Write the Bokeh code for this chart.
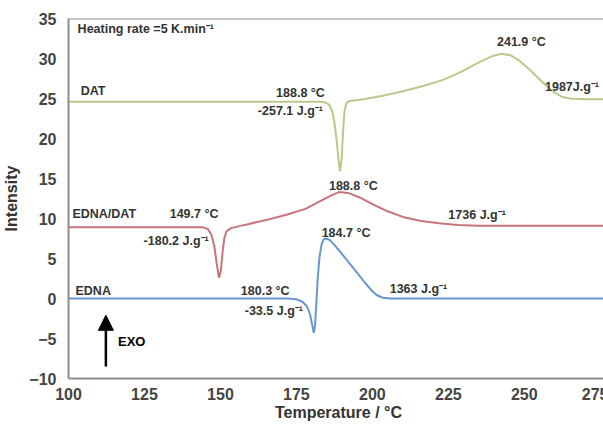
from bokeh.plotting import figure
from bokeh.models import Label, Arrow, NormalHead, Range1d, FixedTicker, Span
from bokeh.embed import file_html
from bokeh.resources import INLINE

# ---- data ----
dat_t = [100, 150, 183, 184.5, 185.8, 186.8, 187.6, 188.3, 188.9, 189.4, 189.9, 190.3, 190.8,
         191.4, 192.5, 197, 203, 210, 217, 223, 228, 232, 236, 239.5, 242.5, 245.5, 248.5,
         251.5, 254.5, 257.5, 260, 262.5, 265, 270, 280]
dat_i = [24.6, 24.6, 24.6, 24.5, 24.2, 23.4, 21.8, 19.5, 17.2, 15.9, 17.5, 20.5, 23.3,
         24.4, 24.7, 24.9, 25.3, 25.9, 26.6, 27.3, 28.1, 28.9, 29.7, 30.3, 30.6, 30.4, 29.7,
         28.7, 27.6, 26.5, 25.7, 25.2, 25.0, 24.9, 24.9]

mix_t = [100, 144, 145.8, 147, 148, 148.8, 149.5, 150.1, 150.7, 151.3, 152, 153.5, 158, 165,
         172, 178, 183, 186.5, 189, 192, 196, 200, 205, 210, 216, 222, 228, 235, 280]
mix_i = [8.9, 8.9, 8.7, 8.0, 6.5, 4.3, 2.6, 3.4, 5.8, 7.6, 8.4, 8.8, 9.2, 9.8,
         10.5, 11.2, 12.2, 12.9, 13.3, 13.2, 12.6, 11.8, 10.9, 10.2, 9.7, 9.4, 9.2, 9.1, 9.1]

edna_t = [100, 172, 175, 177, 178.5, 179.5, 180.2, 180.7, 181.1, 181.5, 182, 182.6, 183.3,
          184, 184.8, 186, 187.5, 189.5, 192, 195, 197.5, 199.5, 201.5, 203.5, 206, 280]
edna_i = [0.0, 0.0, -0.1, -0.4, -1.0, -2.0, -3.3, -4.3, -3.5, -1.0, 2.5, 5.2, 6.8,
          7.4, 7.5, 7.3, 6.7, 5.8, 4.6, 3.2, 2.0, 1.1, 0.4, 0.1, 0.0, 0.0]

x_ticks = [100, 125, 150, 175, 200, 225, 250, 275]
y_ticks = [-10, -5, 0, 5, 10, 15, 20, 25, 30, 35]

FONT = "Liberation Sans"

p = figure(frame_width=540, frame_height=360, output_backend="svg", toolbar_location=None,
           x_range=Range1d(100, 277.7), y_range=Range1d(-10, 35),
           min_border_left=64, min_border_right=0, min_border_top=18, min_border_bottom=10,
           background_fill_color="white", border_fill_color="white")

p.xgrid.visible = False
p.ygrid.visible = False
p.outline_line_color = None

# top border of the plot box (the right side is cut off in the reference)
p.add_layout(Span(location=35, dimension="width", line_color="#8c8c8c", line_width=2))

p.line(dat_t, dat_i, line_color="#b9c98a", line_width=2)
p.line(mix_t, mix_i, line_color="#c8737a", line_width=2)
p.line(edna_t, edna_i, line_color="#6796d0", line_width=2)

for ax in (p.xaxis[0], p.yaxis[0]):
    ax.axis_line_color = "#8c8c8c"
    ax.axis_line_width = 2
    ax.major_tick_line_color = None
    ax.minor_tick_line_color = None
    ax.major_tick_out = 0
    ax.major_tick_in = 0
    ax.major_label_text_font = FONT
    ax.major_label_text_font_style = "bold"
    ax.major_label_text_font_size = "16px"
    ax.major_label_text_color = "#444444"
    ax.axis_label_text_font = FONT
    ax.axis_label_text_font_style = "bold"
    ax.axis_label_text_font_size = "16px"
    ax.axis_label_text_color = "#333333"

p.xaxis[0].ticker = FixedTicker(ticks=x_ticks)
p.yaxis[0].ticker = FixedTicker(ticks=y_ticks)
p.xaxis[0].major_label_standoff = 9
p.yaxis[0].major_label_standoff = 12
p.xaxis[0].axis_label = "Temperature / °C"
p.yaxis[0].axis_label = "Intensity"
p.xaxis[0].axis_label_standoff = 1
p.yaxis[0].axis_label_standoff = 6

annotations = [
    ("Heating rate =5 K.min⁻¹", 103.0, 33.75),
    ("DAT", 104.0, 25.9),
    ("188.8 °C", 168.3, 25.75),
    ("-257.1 J.g⁻¹", 162.3, 23.4),
    ("241.9 °C", 241.0, 32.1),
    ("1987J.g⁻¹", 256.8, 26.5),
    ("EDNA/DAT", 101.3, 10.6),
    ("149.7 °C", 133.3, 10.6),
    ("-180.2 J.g⁻¹", 124.7, 7.25),
    ("188.8 °C", 185.7, 14.1),
    ("184.7 °C", 183.3, 8.25),
    ("1736 J.g⁻¹", 225.0, 10.5),
    ("1363 J.g⁻¹", 205.7, 1.25),
    ("EDNA", 102.3, 1.0),
    ("180.3 °C", 156.7, 1.0),
    ("-33.5 J.g⁻¹", 158.0, -1.5),
]
for txt, x, y in annotations:
    p.add_layout(Label(x=x, y=y, text=txt, text_font=FONT, text_font_style="bold",
                       text_font_size="12.5px", text_color="#333333",
                       text_align="left", text_baseline="middle"))

p.add_layout(Label(x=116.3, y=-5.4, text="EXO", text_font=FONT, text_font_style="bold",
                   text_font_size="13px", text_color="black",
                   text_align="left", text_baseline="middle"))

p.add_layout(Arrow(end=NormalHead(size=15, fill_color="black", line_color="black"),
                   x_start=112.3, y_start=-8.5, x_end=112.3, y_end=-2.1,
                   line_color="black", line_width=2.5))

open("out.html", "w").write(file_html(p, INLINE))
